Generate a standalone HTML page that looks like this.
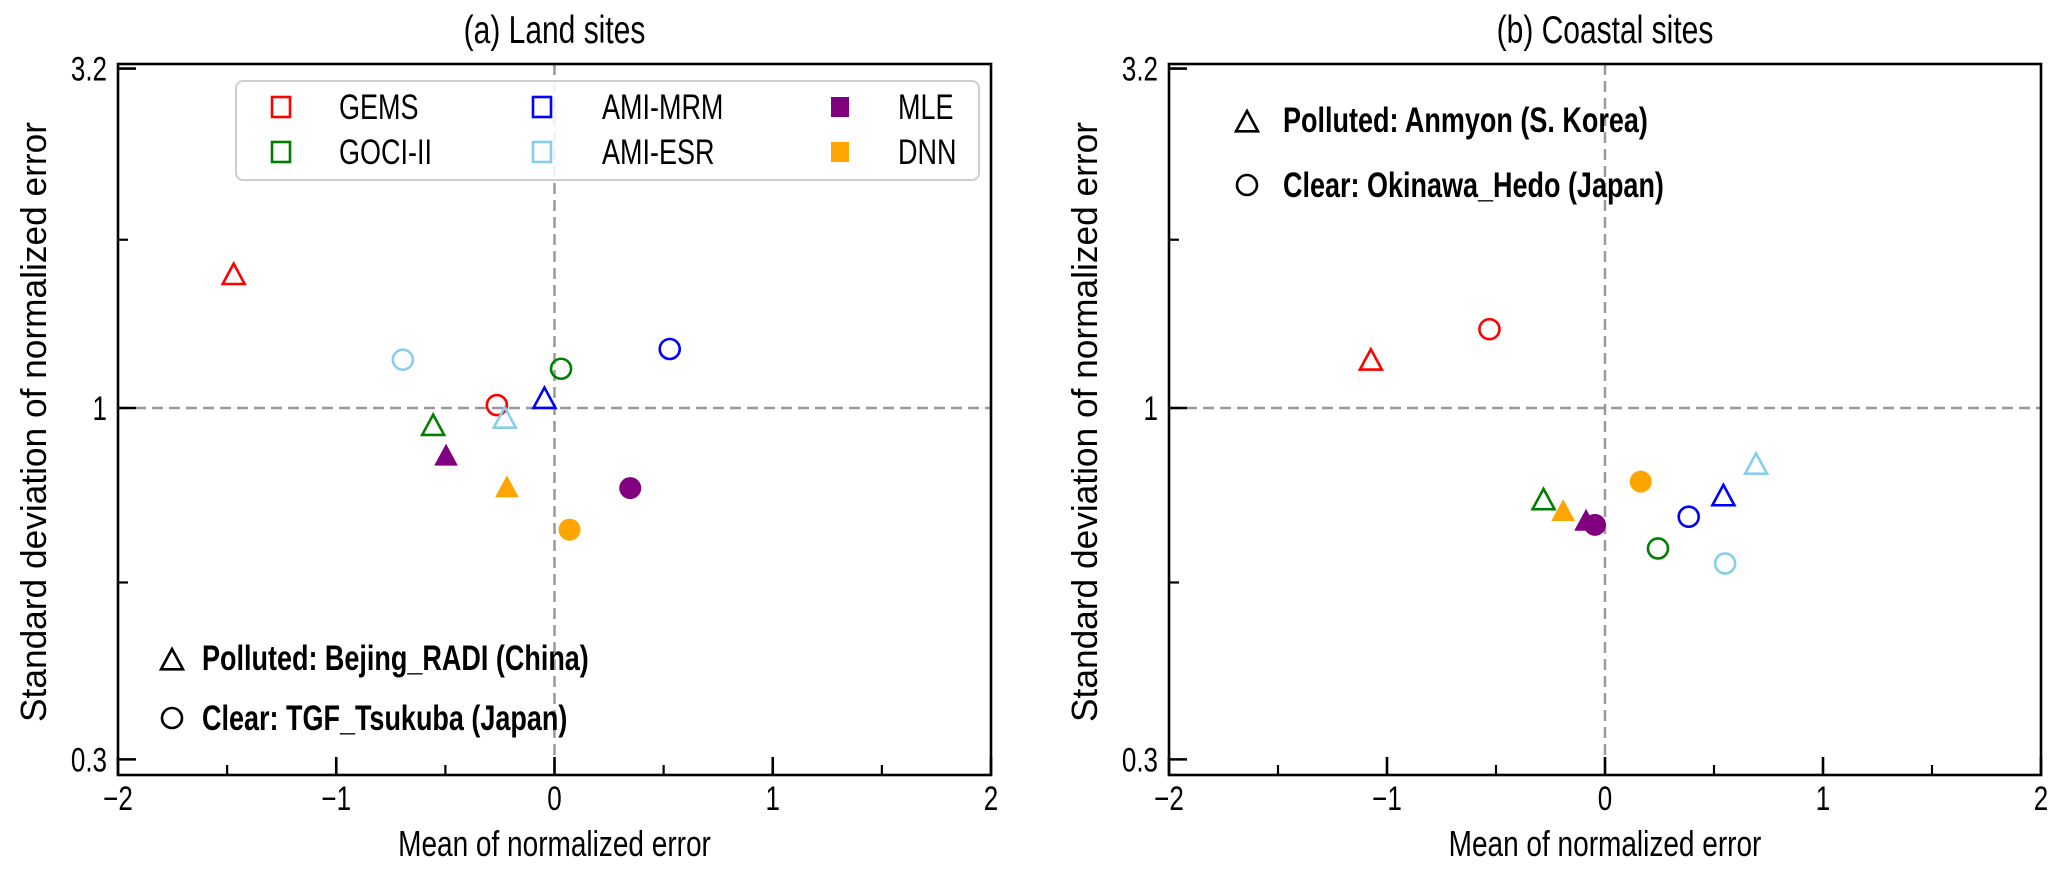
<!DOCTYPE html>
<html><head><meta charset="utf-8"><style>
html,body{margin:0;padding:0;background:#fff;}
svg{display:block;font-family:"Liberation Sans",Arial,sans-serif;}
</style></head><body>
<svg id="fig" width="2067" height="871" viewBox="0 0 2067 871" xmlns="http://www.w3.org/2000/svg">
<g id="panelA"></g>
<g id="panelB"></g>
</svg>
<script>
const products = ["GEMS","GOCI-II","AMI-MRM","AMI-ESR","MLE","DNN"];
const colors = ["#ff0000","#007f00","#0000ff","#87ceeb","#800080","#ffa500"];
const filled = [false,false,false,false,true,true];
// Land sites
const landPollutedMean = [-1.47,-0.556,-0.046,-0.228,-0.497,-0.218];
const landPollutedStd  = [1.59,0.948,1.04,0.972,0.855,0.767];
const landClearMean    = [-0.264,0.030,0.528,-0.695,0.347,0.069];
const landClearStd     = [1.01,1.144,1.224,1.18,0.76,0.659];
// Coastal sites
const coastPollutedMean = [-1.074,-0.282,0.543,0.693,-0.087,-0.192];
const coastPollutedStd  = [1.186,0.735,0.745,0.83,0.684,0.707];
const coastClearMean    = [-0.53,0.243,0.384,0.551,-0.046,0.164];
const coastClearStd     = [1.31,0.618,0.689,0.587,0.67,0.777];
const xTicks = [-2,-1,0,1,2];
const xMinorTicks = [-1.5,-0.5,0.5,1.5];
const yTicks = [0.3,1,3.2];
const yMinorTicks = [0.55,1.78];

const NS="http://www.w3.org/2000/svg";
const TOP=64, BOT=775, SY=1.3;
function Y(v){return 408-672*Math.log10(v);}
function mk(parent,tag,attrs){const e=document.createElementNS(NS,tag);for(const k in attrs)e.setAttribute(k,attrs[k]);parent.appendChild(e);return e;}
function txt(parent,x,y,str,attrs){
  const a=Object.assign({x:0,y:0,transform:`translate(${x} ${y}) scale(1 ${SY})`},attrs);
  const e=mk(parent,"text",a);e.textContent=str;return e;
}

function tri(g,cx,cy,color,fill){
  const s=11;
  return mk(g,"polygon",{points:`${cx},${cy-s} ${cx-s},${cy+s*0.85} ${cx+s},${cy+s*0.85}`,fill:fill?color:"none",stroke:color,"stroke-width":fill?1:2.6,"stroke-linejoin":"miter"});
}
function circ(g,cx,cy,color,fill){
  return mk(g,"circle",{cx:cx,cy:cy,r:fill?11:10,fill:fill?color:"none",stroke:color,"stroke-width":fill?0:2.6});
}

function panel(g,L,R,title,pm,ps,cm,cs,annot,annotX,annotY,annotTextX){
  const X=v=>L+(R-L)*(v+2)/4;
  const t=txt(g,(L+R)/2,43,title,{"text-anchor":"middle","font-size":30});
  
  
  const hl=mk(g,"line",{x1:L,x2:R,y1:Y(1),y2:Y(1),stroke:"#999","stroke-width":2.5,"stroke-dasharray":"11,6"});
  
  
  const vl=mk(g,"line",{x1:X(0),x2:X(0),y1:TOP,y2:BOT,stroke:"#999","stroke-width":2.5,"stroke-dasharray":"11,6"});
  
  
  for(let i=0;i<products.length;i++){
    const a=tri(g,X(pm[i]),Y(ps[i])+2,colors[i],filled[i]);
    
    
    const b=circ(g,X(cm[i]),Y(cs[i]),colors[i],filled[i]);
    
    
  }
  const fr=mk(g,"rect",{x:L,y:TOP,width:R-L,height:BOT-TOP,fill:"none",stroke:"#000","stroke-width":2.6});
  
  
  xTicks.forEach(v=>{
    const tk=mk(g,"line",{x1:X(v),x2:X(v),y1:BOT,y2:BOT-18,stroke:"#000","stroke-width":2.6});
    
    
    const lb=txt(g,X(v),810,v<0?"\u2212"+Math.abs(v):String(v),{"text-anchor":"middle","font-size":26});
    
    
  });
  xMinorTicks.forEach(v=>{
    const tk=mk(g,"line",{x1:X(v),x2:X(v),y1:BOT,y2:BOT-10,stroke:"#000","stroke-width":2.2});
    
    
  });
  yTicks.forEach(v=>{
    const tk=mk(g,"line",{x1:L,x2:L+18,y1:Y(v),y2:Y(v),stroke:"#000","stroke-width":2.6});
    
    
    const lb=txt(g,L-11,Y(v)+12,String(v),{"text-anchor":"end","font-size":26});
    
    
  });
  yMinorTicks.forEach(v=>{
    const tk=mk(g,"line",{x1:L,x2:L+10,y1:Y(v),y2:Y(v),stroke:"#000","stroke-width":2.2});
    
    
  });
  const xt=txt(g,(L+R)/2,856,"Mean of normalized error",{"text-anchor":"middle","font-size":28});
  
  
  const yx=L-85;
  const yt=mk(g,"text",{x:0,y:10,"text-anchor":"middle","font-size":28,textLength:600,lengthAdjust:"spacingAndGlyphs",transform:`translate(${yx} 422) rotate(-90) scale(1 ${SY})`});
  yt.textContent="Standard deviation of normalized error";
  
  
  const ta=tri(g,annotX,annotY[0]+2,"#000",false);
  
  
  const ca=circ(g,annotX,annotY[1],"#000",false);
  
  
  annot.forEach((s,k)=>{
    const at=txt(g,annotTextX,annotY[k]+12,s,{"font-size":27,"font-weight":"bold"});
    
    
  });
}

const gA=document.getElementById("panelA"), gB=document.getElementById("panelB");
panel(gA,118,991,"(a) Land sites",landPollutedMean,landPollutedStd,landClearMean,landClearStd,
  ["Polluted: Bejing_RADI (China)","Clear: TGF_Tsukuba (Japan)"],172,[658,718],202);
panel(gB,1169,2041,"(b) Coastal sites",coastPollutedMean,coastPollutedStd,coastClearMean,coastClearStd,
  ["Polluted: Anmyon (S. Korea)","Clear: Okinawa_Hedo (Japan)"],1247,[120,185],1283);

const lg=mk(gA,"g",{});


const lb=mk(lg,"rect",{x:236,y:81,width:743,height:99,rx:7,fill:"#fff","fill-opacity":0.85,stroke:"#cfcfcf","stroke-width":2});


const colMarkX=[281,542,840], colTextX=[339,602,898], rowY=[107,152];
products.forEach((p,i)=>{
  const c=Math.floor(i/2), r=i%2;
  const sq=mk(lg,"rect",{x:colMarkX[c]-9,y:rowY[r]-10,width:18,height:20,fill:filled[i]?colors[i]:"none",stroke:colors[i],"stroke-width":filled[i]?0:2.6});
  
  
  const tx=txt(lg,colTextX[c],rowY[r]+12,p,{"font-size":27});
  
  
});
</script>
</body></html>
